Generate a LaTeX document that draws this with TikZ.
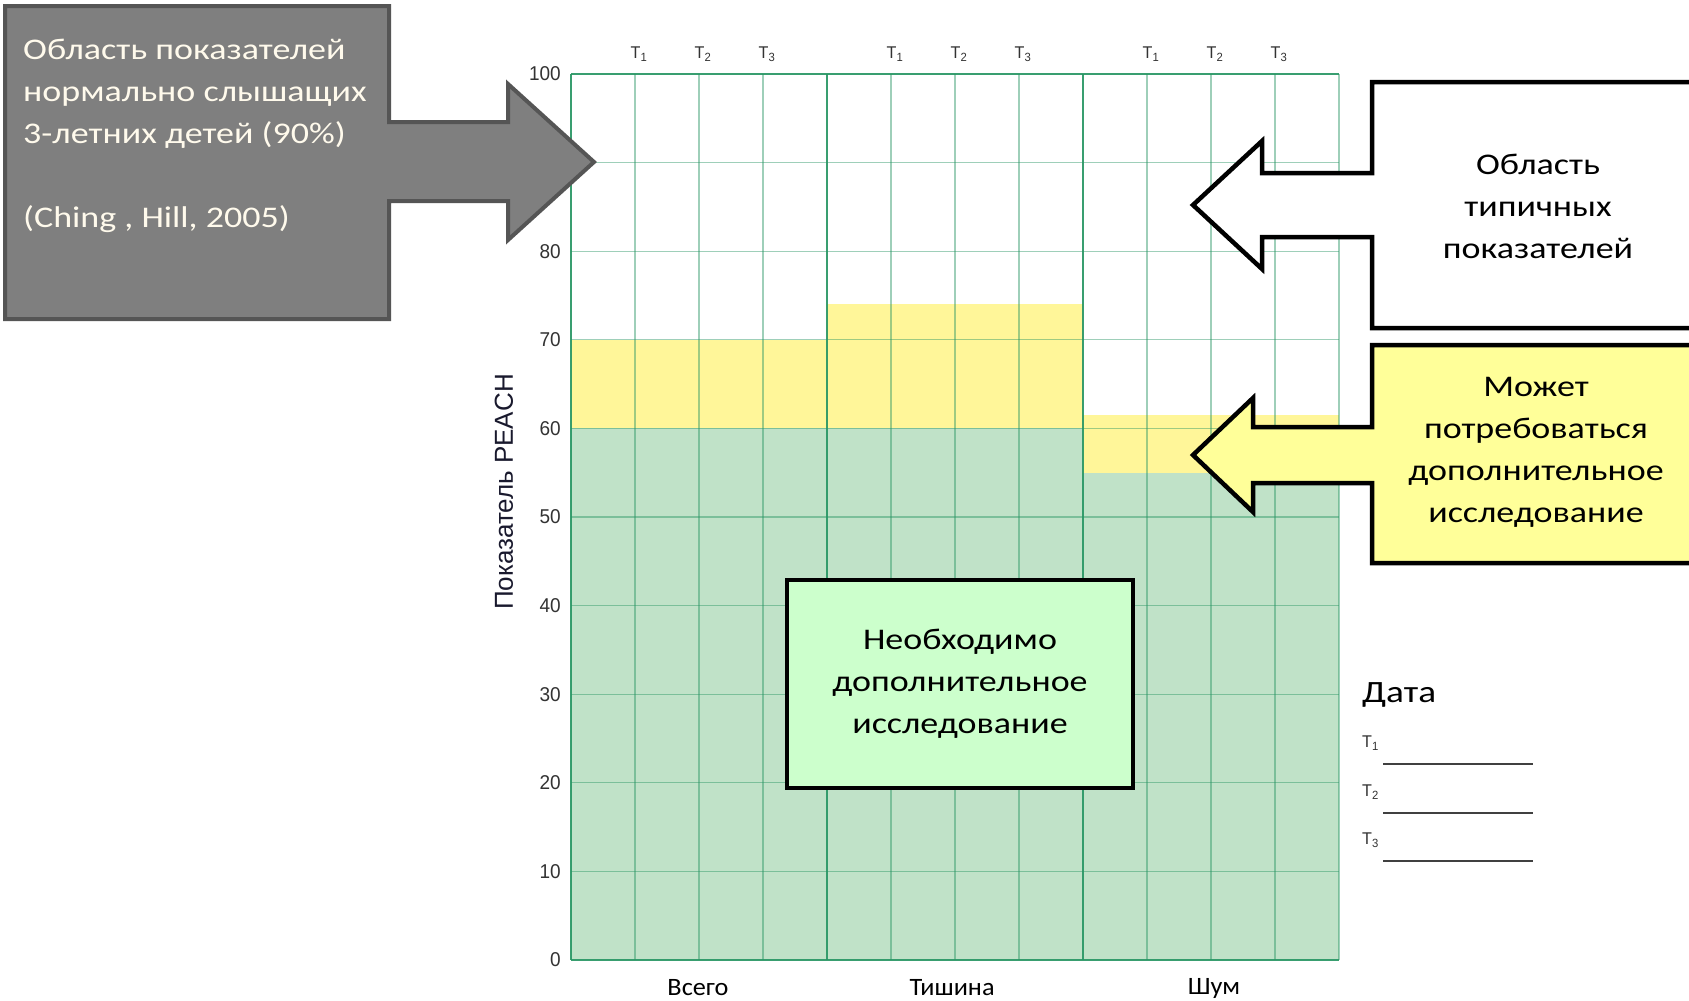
\documentclass[tikz,border=0pt]{standalone}
\usepackage{fontspec}
\setmainfont[FakeStretch=1.2]{Carlito}
\newfontfamily\callab[FakeStretch=1.05]{Carlito}
\newfontfamily\arialn[FakeStretch=0.95]{Liberation Sans}
\newfontfamily\arialf{Liberation Sans}
\definecolor{darkfill}{RGB}{127,127,127}
\definecolor{darkedge}{RGB}{85,85,85}
\definecolor{creamtext}{RGB}{255,250,236}
\definecolor{greenzone}{RGB}{192,226,200}
\definecolor{yellowzone}{RGB}{255,246,153}
\definecolor{gridc}{RGB}{40,150,100}
\definecolor{boxgreen}{RGB}{204,255,204}
\definecolor{boxyellow}{RGB}{255,255,153}
\definecolor{axistitle}{RGB}{25,25,45}
\definecolor{datelines}{RGB}{64,64,64}
\tikzset{
  gridline/.style={draw=gridc, draw opacity=0.45, line width=1.1pt},
  majorline/.style={draw=gridc, draw opacity=0.85, line width=1.4pt},
  darkcallout/.style={fill=darkfill, draw=darkedge, line width=4pt, line join=miter},
  whitecallout/.style={fill=white, draw=black, line width=4.5pt, line join=miter},
  yellowcallout/.style={fill=boxyellow, draw=black, line width=4.5pt, line join=miter},
  bigtext/.style={font=\fontsize{30}{42}\selectfont, inner sep=0pt, align=center},
  ylab/.style={font=\arialn\fontsize{20}{21}\selectfont, inner sep=0pt, text=black!80},
  tlab/.style={font=\arialn\fontsize{17}{18}\selectfont, inner sep=0pt, text=black!80},
  xlab/.style={font=\callab\fontsize{25}{27}\selectfont, inner sep=0pt},
}
\begin{document}
\begin{tikzpicture}[x=1pt,y=-1pt]
\useasboundingbox (0,0) rectangle (1689,1001);
\clip (0,0) rectangle (1689,1001);
\fill[white] (0,0) rectangle (1689,1001);

% zones
\fill[greenzone] (571,960) rectangle (827,428.4);
\fill[yellowzone] (571,428.4) rectangle (827,339.8);
\fill[greenzone] (827,960) rectangle (1083,428.4);
\fill[yellowzone] (827,428.4) rectangle (1083,304.4);
\fill[greenzone] (1083,960) rectangle (1339,472.7);
\fill[yellowzone] (1083,472.7) rectangle (1339,415.1);

% grid
\foreach \i in {0,...,12} {
  \draw[gridline] (571+64*\i,74) -- (571+64*\i,960);
}
\foreach \v in {0,10,...,100} {
  \draw[gridline] (571,960-8.86*\v) -- (1339,960-8.86*\v);
}
\draw[majorline] (571,74) -- (571,960);
\draw[majorline] (827,74) -- (827,960);
\draw[majorline] (1083,74) -- (1083,960);
\draw[majorline] (571,74) -- (1339,74);
\draw[majorline] (571,960) -- (1339,960);

% y labels
\foreach \v in {0,10,20,30,40,50,60,70,80,100} {
  \node[ylab, anchor=east] (y\v) at (561,960-8.86*\v) {\v};
}
\node[font=\arialf\fontsize{26}{28}\selectfont, text=axistitle, rotate=90, inner sep=0pt] (ytitle) at (504,492) {Показатель PEACH};

% top T labels
\foreach \c/\s in {635/1,699/2,763/3,891/1,955/2,1019/3,1147/1,1211/2,1275/3} {
  \node[tlab] (top\c) at (\c+4,54) {T\textsubscript{\s}};
}

% bottom labels
\node[xlab] (vsego) at (698,988) {Всего};
\node[xlab] (tishina) at (952,988) {Тишина};
\node[xlab] (shum) at (1214,988) {Шум};

% dark callout
\draw[darkcallout] (5,6) -- (389,6) -- (389,122) -- (508,122) -- (508,84) -- (594,162) -- (508,240) -- (508,201) -- (389,201) -- (389,319) -- (5,319) -- cycle;
\node[bigtext, align=left, anchor=west, text=creamtext] (normtext) at (23,136)
  {Область показателей\\нормально слышащих\\3-летних детей (90\%)\\\mbox{}\\(Ching , Hill, 2005)};

% white callout
\draw[whitecallout] (1372,82) -- (1720,82) -- (1720,328) -- (1372,328) -- (1372,237) -- (1262,237) -- (1262,269) -- (1193,205) -- (1262,141) -- (1262,173) -- (1372,173) -- cycle;
\node[bigtext] (typtext) at (1538,206) {Область\\типичных\\показателей};

% yellow callout
\draw[yellowcallout] (1372,345) -- (1720,345) -- (1720,563) -- (1372,563) -- (1372,483) -- (1253,483) -- (1253,512) -- (1193,455) -- (1253,398) -- (1253,427) -- (1372,427) -- cycle;
\node[bigtext] (maytext) at (1536,452) {Может\\потребоваться\\дополнительное\\исследование};

% green box
\node[bigtext, draw=black, fill=boxgreen, line width=4pt, minimum width=346pt, minimum height=208pt] (needbox) at (960,684) {Необходимо\\дополнительное\\исследование};

% date section
\node[font=\fontsize{31}{33}\selectfont, anchor=west, inner sep=0pt] (data) at (1362,695) {Дата};
\foreach \k/\yy in {1/743,2/792,3/840} {
  \node[tlab, anchor=west] (dt\k) at (1362,\yy) {T\textsubscript{\k}};
  \coordinate (ls\k) at (1383,\yy+21);
  \coordinate (le\k) at (1533,\yy+21);
  \draw[datelines, line width=2pt] (ls\k) -- (le\k);
}
\end{tikzpicture}
\end{document}
